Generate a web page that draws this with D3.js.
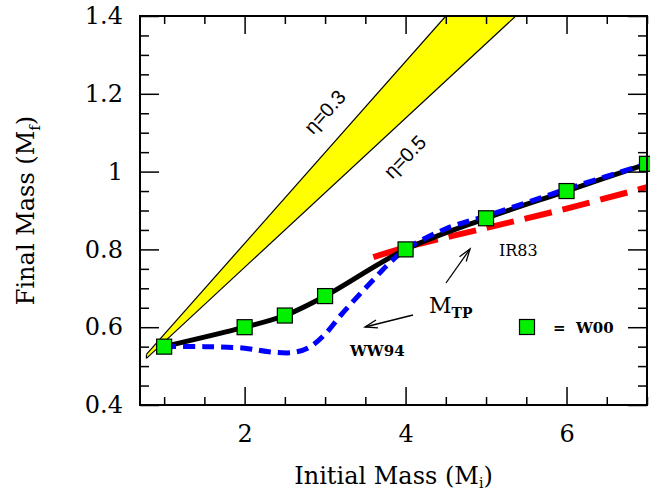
<!DOCTYPE html>
<html>
<head>
<meta charset="utf-8">
<script src="https://cdn.jsdelivr.net/npm/d3@7"></script>
<style>
  body { margin: 0; background: #fff; }
  svg text { fill: #000; }
</style>
</head>
<body>
<svg id="chart" width="650" height="494"></svg>
<script>
// W00 models (green squares + black line)
const w00Mi = [1, 2, 2.5, 3, 4, 5, 6, 7];
const w00Mf = [0.55, 0.60, 0.63, 0.68, 0.80, 0.88, 0.95, 1.02];

// WW94 (blue dotted)
const ww94Mi = [1.0, 1.5, 2.0, 2.3, 2.6, 2.8, 3.0, 3.2, 3.4, 3.6, 3.8, 4.0, 4.5, 5.0, 5.5, 6.0, 7.0];
const ww94Mf = [0.55, 0.55, 0.546, 0.537, 0.535, 0.548, 0.582, 0.632, 0.678, 0.722, 0.765, 0.80, 0.853, 0.886, 0.92, 0.955, 1.02];

// IR83 (red dashed)
const ir83Mi = [3.6, 4, 5, 6, 7];
const ir83Mf = [0.78, 0.805, 0.855, 0.905, 0.96];

// eta band edges
const eta03Mi = [0.78, 4.5];
const eta03Mf = [0.53, 1.4];
const eta05Mi = [0.78, 5.37];
const eta05Mf = [0.52, 1.4];

const xMajor = [2, 4, 6];
const xMinor = [1, 1.5, 2.5, 3, 3.5, 4.5, 5, 5.5, 6.5, 7];
const yMajor = [0.4, 0.6, 0.8, 1.0, 1.2, 1.4];
const yMajorLabels = ["0.4", "0.6", "0.8", "1", "1.2", "1.4"];

const pL = 140, pR = 647, pT = 16, pB = 405;

const x = d3.scaleLinear().domain([0.7, 7.0]).range([pL, pR]);
const y = d3.scaleLinear().domain([0.4, 1.4]).range([pB, pT]);

const yMinor = d3.range(0.45, 1.4, 0.05).map(v => +v.toFixed(2)).filter(v => !yMajor.some(m => Math.abs(m - v) < 1e-6));

const svg = d3.select("#chart");

svg.append("defs").append("clipPath")
    .attr("id", "clip")
    .append("rect")
    .attr("x", pL).attr("y", pT)
    .attr("width", pR - pL).attr("height", pB - pT);

const plot = svg.append("g").attr("clip-path", "url(#clip)");

const zip = (a, b) => a.map((v, i) => [v, b[i]]);

// yellow band
const upper = zip(eta03Mi, eta03Mf);
const lower = zip(eta05Mi, eta05Mf);
plot.append("path")
    .attr("d", d3.line().x(d => x(d[0])).y(d => y(d[1]))(upper.concat(lower.slice().reverse())) + "Z")
    .attr("fill", "#ffff00")
    .attr("stroke", "none");
[upper, lower].forEach(pts => {
  plot.append("path")
      .attr("d", d3.line().x(d => x(d[0])).y(d => y(d[1]))(pts))
      .attr("fill", "none")
      .attr("stroke", "#000")
      .attr("stroke-width", 1.2);
});
// close the left end of the band
plot.append("line")
    .attr("x1", x(eta03Mi[0])).attr("y1", y(eta03Mf[0]))
    .attr("x2", x(eta05Mi[0])).attr("y2", y(eta05Mf[0]))
    .attr("stroke", "#000").attr("stroke-width", 1.2);

const smooth = d3.line()
    .curve(d3.curveCatmullRom.alpha(0.5))
    .x(d => x(d[0]))
    .y(d => y(d[1]));

// IR83
plot.append("path")
    .attr("d", smooth(zip(ir83Mi, ir83Mf)))
    .attr("fill", "none")
    .attr("stroke", "#ff0000")
    .attr("stroke-width", 6)
    .attr("stroke-dasharray", "28,11");

// W00 line
plot.append("path")
    .attr("d", smooth(zip(w00Mi, w00Mf)))
    .attr("fill", "none")
    .attr("stroke", "#000")
    .attr("stroke-width", 5);

// WW94
plot.append("path")
    .attr("d", smooth(zip(ww94Mi, ww94Mf)))
    .attr("fill", "none")
    .attr("stroke", "#0000ff")
    .attr("stroke-width", 5)
    .attr("stroke-dasharray", "12,7");

// squares
const sq = 15;
svg.append("g").selectAll("rect")
    .data(zip(w00Mi, w00Mf))
    .join("rect")
    .attr("x", d => x(d[0]) - sq / 2)
    .attr("y", d => y(d[1]) - sq / 2)
    .attr("width", sq).attr("height", sq)
    .attr("fill", "#00f000")
    .attr("stroke", "#000")
    .attr("stroke-width", 1.2);

// axes (ticks inward)
function styleAxis(g) {
  g.select(".domain").remove();
  g.selectAll(".tick line").attr("stroke", "#000").attr("stroke-width", 1.5);
  g.selectAll(".tick text")
      .attr("font-family", "DejaVu Serif")
      .attr("font-size", 24)
      .attr("fill", "#000");
}

svg.append("g").attr("transform", `translate(0,${pB})`)
    .call(d3.axisBottom(x).tickValues(xMajor).tickSizeInner(-18).tickSizeOuter(0).tickPadding(20).tickFormat(d3.format("d")))
    .call(styleAxis);
svg.append("g").attr("transform", `translate(0,${pB})`)
    .call(d3.axisBottom(x).tickValues(xMinor).tickSizeInner(-8).tickSizeOuter(0).tickFormat(""))
    .call(styleAxis);
svg.append("g").attr("transform", `translate(0,${pT})`)
    .call(d3.axisTop(x).tickValues(xMajor).tickSizeInner(-18).tickSizeOuter(0).tickFormat(""))
    .call(styleAxis);
svg.append("g").attr("transform", `translate(0,${pT})`)
    .call(d3.axisTop(x).tickValues(xMinor).tickSizeInner(-8).tickSizeOuter(0).tickFormat(""))
    .call(styleAxis);

svg.append("g").attr("transform", `translate(${pL},0)`)
    .call(d3.axisLeft(y).tickValues(yMajor).tickSizeInner(-19).tickSizeOuter(0).tickPadding(17)
      .tickFormat((d, i) => yMajorLabels[i]))
    .call(styleAxis);
svg.append("g").attr("transform", `translate(${pL},0)`)
    .call(d3.axisLeft(y).tickValues(yMinor).tickSizeInner(-9).tickSizeOuter(0).tickFormat(""))
    .call(styleAxis);
svg.append("g").attr("transform", `translate(${pR},0)`)
    .call(d3.axisRight(y).tickValues(yMajor).tickSizeInner(-19).tickSizeOuter(0).tickFormat(""))
    .call(styleAxis);
svg.append("g").attr("transform", `translate(${pR},0)`)
    .call(d3.axisRight(y).tickValues(yMinor).tickSizeInner(-9).tickSizeOuter(0).tickFormat(""))
    .call(styleAxis);

// frame
svg.append("rect")
    .attr("x", pL).attr("y", pT)
    .attr("width", pR - pL).attr("height", pB - pT)
    .attr("fill", "none")
    .attr("stroke", "#000")
    .attr("stroke-width", 2);

// axis titles
const xt = svg.append("text")
    .attr("x", (pL + pR) / 2).attr("y", 484)
    .attr("text-anchor", "middle")
    .attr("font-family", "DejaVu Serif").attr("font-size", 24);
xt.append("tspan").text("Initial Mass (M");
xt.append("tspan").attr("font-size", 14).attr("dy", 4).text("i");
xt.append("tspan").attr("dy", -4).text(")");

const yt = svg.append("text")
    .attr("transform", `translate(34,${(pT + pB) / 2}) rotate(-90)`)
    .attr("text-anchor", "middle")
    .attr("font-family", "DejaVu Serif").attr("font-size", 24);
yt.append("tspan").text("Final Mass (M");
yt.append("tspan").attr("font-size", 15).attr("dy", 6).text("f");
yt.append("tspan").attr("dy", -6).text(")");

// eta labels
svg.append("text")
    .attr("transform", "translate(326,113) rotate(-48)")
    .attr("text-anchor", "middle").attr("dominant-baseline", "middle")
    .attr("font-family", "Liberation Sans").attr("font-size", 20)
    .text("η=0.3");
svg.append("text")
    .attr("transform", "translate(406,158) rotate(-46)")
    .attr("text-anchor", "middle").attr("dominant-baseline", "middle")
    .attr("font-family", "Liberation Sans").attr("font-size", 20)
    .text("η=0.5");

// annotations
svg.append("text")
    .attr("x", 499).attr("y", 256)
    .attr("font-family", "DejaVu Serif").attr("font-size", 16)
    .text("IR83");
svg.append("text")
    .attr("x", 350).attr("y", 356)
    .attr("font-family", "DejaVu Serif").attr("font-weight", "bold").attr("font-size", 15)
    .text("WW94");
const mtp = svg.append("text")
    .attr("x", 429).attr("y", 313)
    .attr("font-family", "DejaVu Serif").attr("font-size", 22);
mtp.append("tspan").text("M");
mtp.append("tspan").attr("font-size", 14).attr("font-weight", "bold").attr("dy", 5).text("TP");

// arrows
function arrow(x1, y1, x2, y2) {
  const a = Math.atan2(y2 - y1, x2 - x1), L = 13, spread = 0.32;
  svg.append("line")
      .attr("x1", x1).attr("y1", y1).attr("x2", x2).attr("y2", y2)
      .attr("stroke", "#000").attr("stroke-width", 1.3);
  svg.append("path")
      .attr("d", `M${x2 - L * Math.cos(a - spread)},${y2 - L * Math.sin(a - spread)}L${x2},${y2}L${x2 - L * Math.cos(a + spread)},${y2 - L * Math.sin(a + spread)}`)
      .attr("fill", "none").attr("stroke", "#000").attr("stroke-width", 1.3);
}
arrow(446, 283, 470, 249);
arrow(413, 315, 365, 327);

// legend
svg.append("rect")
    .attr("x", 527 - sq / 2).attr("y", 327 - sq / 2)
    .attr("width", sq).attr("height", sq)
    .attr("fill", "#00f000").attr("stroke", "#000").attr("stroke-width", 1.2);
svg.append("text")
    .attr("x", 553).attr("y", 333)
    .attr("font-family", "DejaVu Serif").attr("font-weight", "bold").attr("font-size", 15)
    .attr("xml:space", "preserve")
    .text("=  W00");
</script>
</body>
</html>
